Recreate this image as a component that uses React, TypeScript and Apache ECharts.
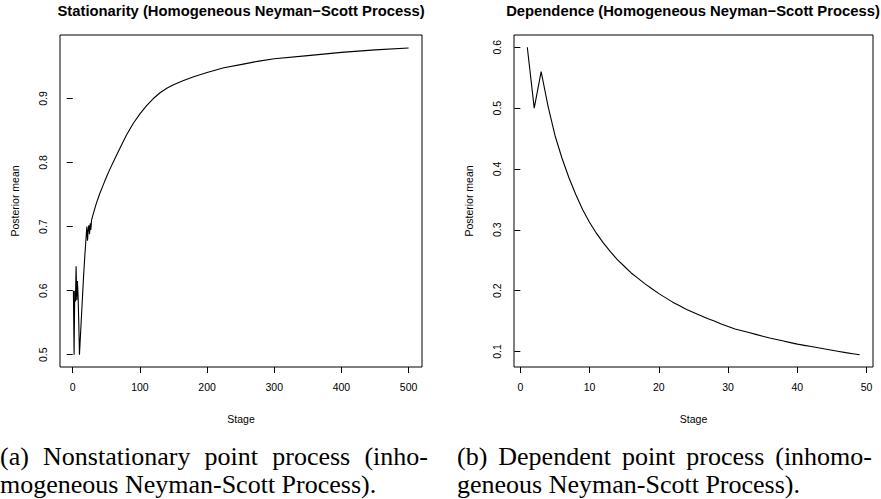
import React, { useEffect, useRef } from "react";
import * as echarts from "echarts";

// ---- data ----
const leftTitle = "Stationarity (Homogeneous Neyman\u2212Scott Process)";
const rightTitle = "Dependence (Homogeneous Neyman\u2212Scott Process)";
const xName = "Stage";
const yName = "Posterior mean";

const leftStage = [1, 2, 3, 4, 5, 6, 7, 8, 9, 10, 12, 14, 16, 18, 20, 21, 22, 23, 24, 25, 26, 27, 28, 30, 35, 40, 45, 50, 55, 60, 65, 71, 80, 90, 100, 110, 120, 130, 140, 150, 165, 180, 200, 225, 250, 275, 300, 350, 400, 450, 500];
const leftMean = [0.6, 0.5, 0.6, 0.583, 0.638, 0.585, 0.615, 0.59, 0.55, 0.5, 0.54, 0.58, 0.62, 0.655, 0.685, 0.7, 0.678, 0.695, 0.702, 0.688, 0.705, 0.695, 0.71, 0.718, 0.736, 0.751, 0.764, 0.777, 0.789, 0.8, 0.811, 0.824, 0.843, 0.861, 0.876, 0.889, 0.9, 0.909, 0.916, 0.9215, 0.928, 0.934, 0.9405, 0.948, 0.953, 0.958, 0.962, 0.967, 0.972, 0.976, 0.979];

const rightStage = [1, 2, 3, 4, 5, 6, 7, 8, 9, 10, 11, 12, 13, 14, 15, 16, 17, 18, 19, 20, 21, 22, 23, 24, 25, 26, 27, 28, 29, 30, 31, 32, 33, 34, 35, 36, 37, 38, 39, 40, 41, 42, 43, 44, 45, 46, 47, 48, 49];
const rightMean = [0.6, 0.5, 0.56, 0.503, 0.455, 0.418, 0.386, 0.358, 0.333, 0.312, 0.294, 0.278, 0.264, 0.251, 0.24, 0.229, 0.22, 0.211, 0.203, 0.195, 0.188, 0.181, 0.175, 0.169, 0.164, 0.159, 0.154, 0.15, 0.145, 0.141, 0.137, 0.134, 0.131, 0.128, 0.125, 0.122, 0.1195, 0.117, 0.1145, 0.112, 0.11, 0.108, 0.106, 0.104, 0.102, 0.1, 0.098, 0.0963, 0.0946];

const leftXTicks = [0, 100, 200, 300, 400, 500];
const leftYTicks = [0.5, 0.6, 0.7, 0.8, 0.9];
const rightXTicks = [0, 10, 20, 30, 40, 50];
const rightYTicks = [0.1, 0.2, 0.3, 0.4, 0.5, 0.6];

const captionA = ["(a) Nonstationary point process (inho-", "mogeneous Neyman-Scott Process)."];
const captionB = ["(b) Dependent point process (inhomo-", "geneous Neyman-Scott Process)."];

// ---- style ----
const SANS = "'Liberation Sans', Arial, Helvetica, sans-serif";
const SERIF = "'Liberation Serif', 'Times New Roman', serif";
const AX_FS = 10.5;
const CAP_FS = 26;

function rangeWithPad(lo: number, hi: number) {
  const p = (hi - lo) * 0.04;
  return [lo - p, hi + p];
}

function captionLine(text: string, x0: number, width: number, y: number, justify: boolean) {
  const font = `${CAP_FS}px ${SERIF}`;
  if (!justify) {
    return [{ type: "text", x: x0, y, style: { text, font, fill: "#000", textAlign: "left", textVerticalAlign: "middle" } }];
  }
  const canvas = document.createElement("canvas");
  const ctx = canvas.getContext("2d")!;
  ctx.font = font;
  const words = text.split(" ");
  const ws = words.map((w) => ctx.measureText(w).width);
  const total = ws.reduce((a, b) => a + b, 0);
  const gap = (width - total) / (words.length - 1);
  const out: any[] = [];
  let x = x0;
  words.forEach((w, i) => {
    out.push({ type: "text", x, y, style: { text: w, font, fill: "#000", textAlign: "left", textVerticalAlign: "middle" } });
    x += ws[i] + gap;
  });
  return out;
}

function axisX(gridIndex: number, lo: number, hi: number, ticks: number[]) {
  const [mn, mx] = rangeWithPad(lo, hi);
  return {
    gridIndex,
    type: "value",
    min: mn,
    max: mx,
    axisLine: { show: false },
    axisTick: { show: true, inside: false, length: 6, customValues: ticks, lineStyle: { color: "#000", width: 1 } },
    axisLabel: { customValues: ticks, margin: 14, fontSize: AX_FS, color: "#000", fontFamily: SANS },
    splitLine: { show: false },
    name: xName,
    nameLocation: "middle",
    nameGap: 46,
    nameTextStyle: { fontSize: AX_FS, color: "#000", fontFamily: SANS },
  };
}

function axisY(gridIndex: number, lo: number, hi: number, ticks: number[]) {
  const [mn, mx] = rangeWithPad(lo, hi);
  return {
    gridIndex,
    type: "value",
    min: mn,
    max: mx,
    axisLine: { show: false },
    axisTick: { show: true, inside: false, length: 6, customValues: ticks, lineStyle: { color: "#000", width: 1 } },
    axisLabel: { customValues: ticks, margin: 12, rotate: 90, fontSize: AX_FS, color: "#000", fontFamily: SANS },
    splitLine: { show: false },
    name: yName,
    nameLocation: "middle",
    nameRotate: 90,
    nameGap: 40,
    nameTextStyle: { fontSize: AX_FS, color: "#000", fontFamily: SANS },
  };
}

export default function App() {
  const ref = useRef<HTMLDivElement>(null);
  useEffect(() => {
    document.body.style.margin = "0";
    const chart = echarts.init(ref.current!, null, { renderer: "svg" });
    const gridBase = { show: true, borderColor: "#000", borderWidth: 1, backgroundColor: "transparent", containLabel: false };
    const graphics: any[] = [
      { type: "text", x: 241, y: 11, style: { text: leftTitle, font: `bold 14.8px ${SANS}`, fill: "#000", textAlign: "center", textVerticalAlign: "middle" } },
      { type: "text", x: 693, y: 11, style: { text: rightTitle, font: `bold 14.8px ${SANS}`, fill: "#000", textAlign: "center", textVerticalAlign: "middle" } },
      ...captionLine(captionA[0], 0, 428, 456, true),
      ...captionLine(captionA[1], 0, 0, 484, false),
      ...captionLine(captionB[0], 457, 415, 456, true),
      ...captionLine(captionB[1], 457, 0, 484, false),
    ];
    chart.setOption({
      animation: false,
      backgroundColor: "#fff",
      grid: [
        { ...gridBase, left: 60, top: 35, width: 362, height: 332 },
        { ...gridBase, left: 514, top: 35, width: 359, height: 332 },
      ],
      xAxis: [axisX(0, 1, 500, leftXTicks), axisX(1, 1, 49, rightXTicks)],
      yAxis: [axisY(0, 0.5, 0.98, leftYTicks), axisY(1, 0.0946, 0.6, rightYTicks)],
      series: [
        {
          type: "line",
          xAxisIndex: 0,
          yAxisIndex: 0,
          data: leftStage.map((s, i) => [s, leftMean[i]]),
          showSymbol: false,
          silent: true,
          lineStyle: { color: "#000", width: 1.1 },
        },
        {
          type: "line",
          xAxisIndex: 1,
          yAxisIndex: 1,
          data: rightStage.map((s, i) => [s, rightMean[i]]),
          showSymbol: false,
          silent: true,
          lineStyle: { color: "#000", width: 1.1 },
        },
      ],
      graphic: graphics,
    });
    return () => chart.dispose();
  }, []);
  return <div ref={ref} style={{ width: 881, height: 499 }} />;
}
